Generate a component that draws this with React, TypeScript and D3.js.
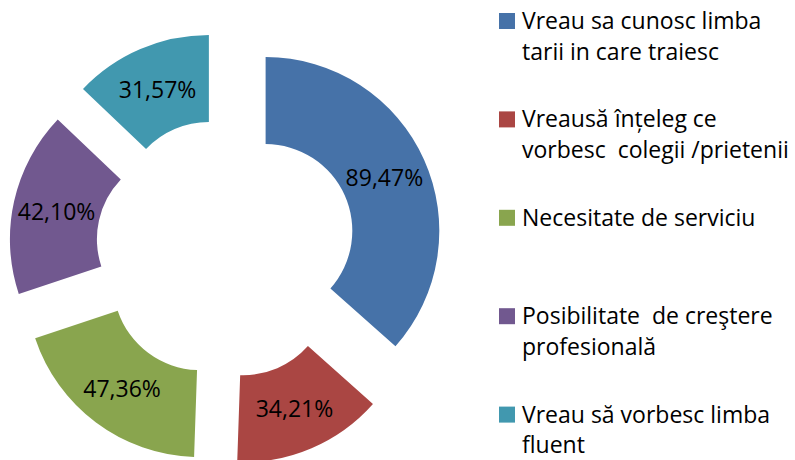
import React from "react";
import * as d3 from "d3";

const categories: string[][] = [
  ["Vreau sa cunosc limba", "tarii in care traiesc"],
  ["Vreausă înțeleg ce", "vorbesc  colegii /prietenii"],
  ["Necesitate de serviciu"],
  ["Posibilitate  de creştere", "profesională"],
  ["Vreau să vorbesc limba", "fluent"],
];
const values: number[] = [89.47, 34.21, 47.36, 42.1, 31.57];
const colors: string[] = ["#4672A8", "#AA4643", "#89A54E", "#71588F", "#4198AF"];

const W = 795;
const H = 460;
const FONT = "'Open Sans', 'Liberation Sans', sans-serif";

export default function App() {
  const cx = 226;
  const cy = 248.6;
  const R = 173.7;
  const r = 86.7;
  const explode = 0.25 * R;

  const pie = d3.pie<number>().sort(null).value((d) => d).startAngle(0).endAngle(2 * Math.PI);
  const arcs = pie(values);
  const arc = d3.arc<d3.PieArcDatum<number>>().innerRadius(r).outerRadius(R);
  const fmt = d3.format(".2f");

  const legendX = 499;
  const legendY0 = 29;
  const legendStep = 98.4;
  const lineH = 30.5;

  return (
    <svg
      width={W}
      height={H}
      style={{ position: "absolute", left: 0, top: 0, display: "block", background: "#fff" }}
    >
      <g transform={`translate(${cx},${cy})`}>
        {arcs.map((a, i) => {
          const mid = (a.startAngle + a.endAngle) / 2;
          const dx = Math.sin(mid) * explode;
          const dy = -Math.cos(mid) * explode;
          const [lx, ly] = arc.centroid(a);
          return (
            <g key={i} transform={`translate(${dx},${dy})`}>
              <path d={arc(a) || ""} fill={colors[i]} />
              <text
                x={lx}
                y={ly}
                textAnchor="middle"
                dominantBaseline="central"
                fontFamily={FONT}
                fontSize={23}
                fill="#000"
              >
                {fmt(values[i]).replace(".", ",") + "%"}
              </text>
            </g>
          );
        })}
      </g>
      <g>
        {categories.map((lines, i) => {
          const base = legendY0 + i * legendStep;
          return (
            <g key={i}>
              <rect x={legendX} y={base - 16} width={16} height={16} fill={colors[i]} />
              {lines.map((ln, j) => (
                <text
                  key={j}
                  x={522}
                  y={base + j * lineH}
                  fontFamily={FONT}
                  fontSize={23}
                  fill="#000"
                  style={{ whiteSpace: "pre" }}
                >
                  {ln}
                </text>
              ))}
            </g>
          );
        })}
      </g>
    </svg>
  );
}
